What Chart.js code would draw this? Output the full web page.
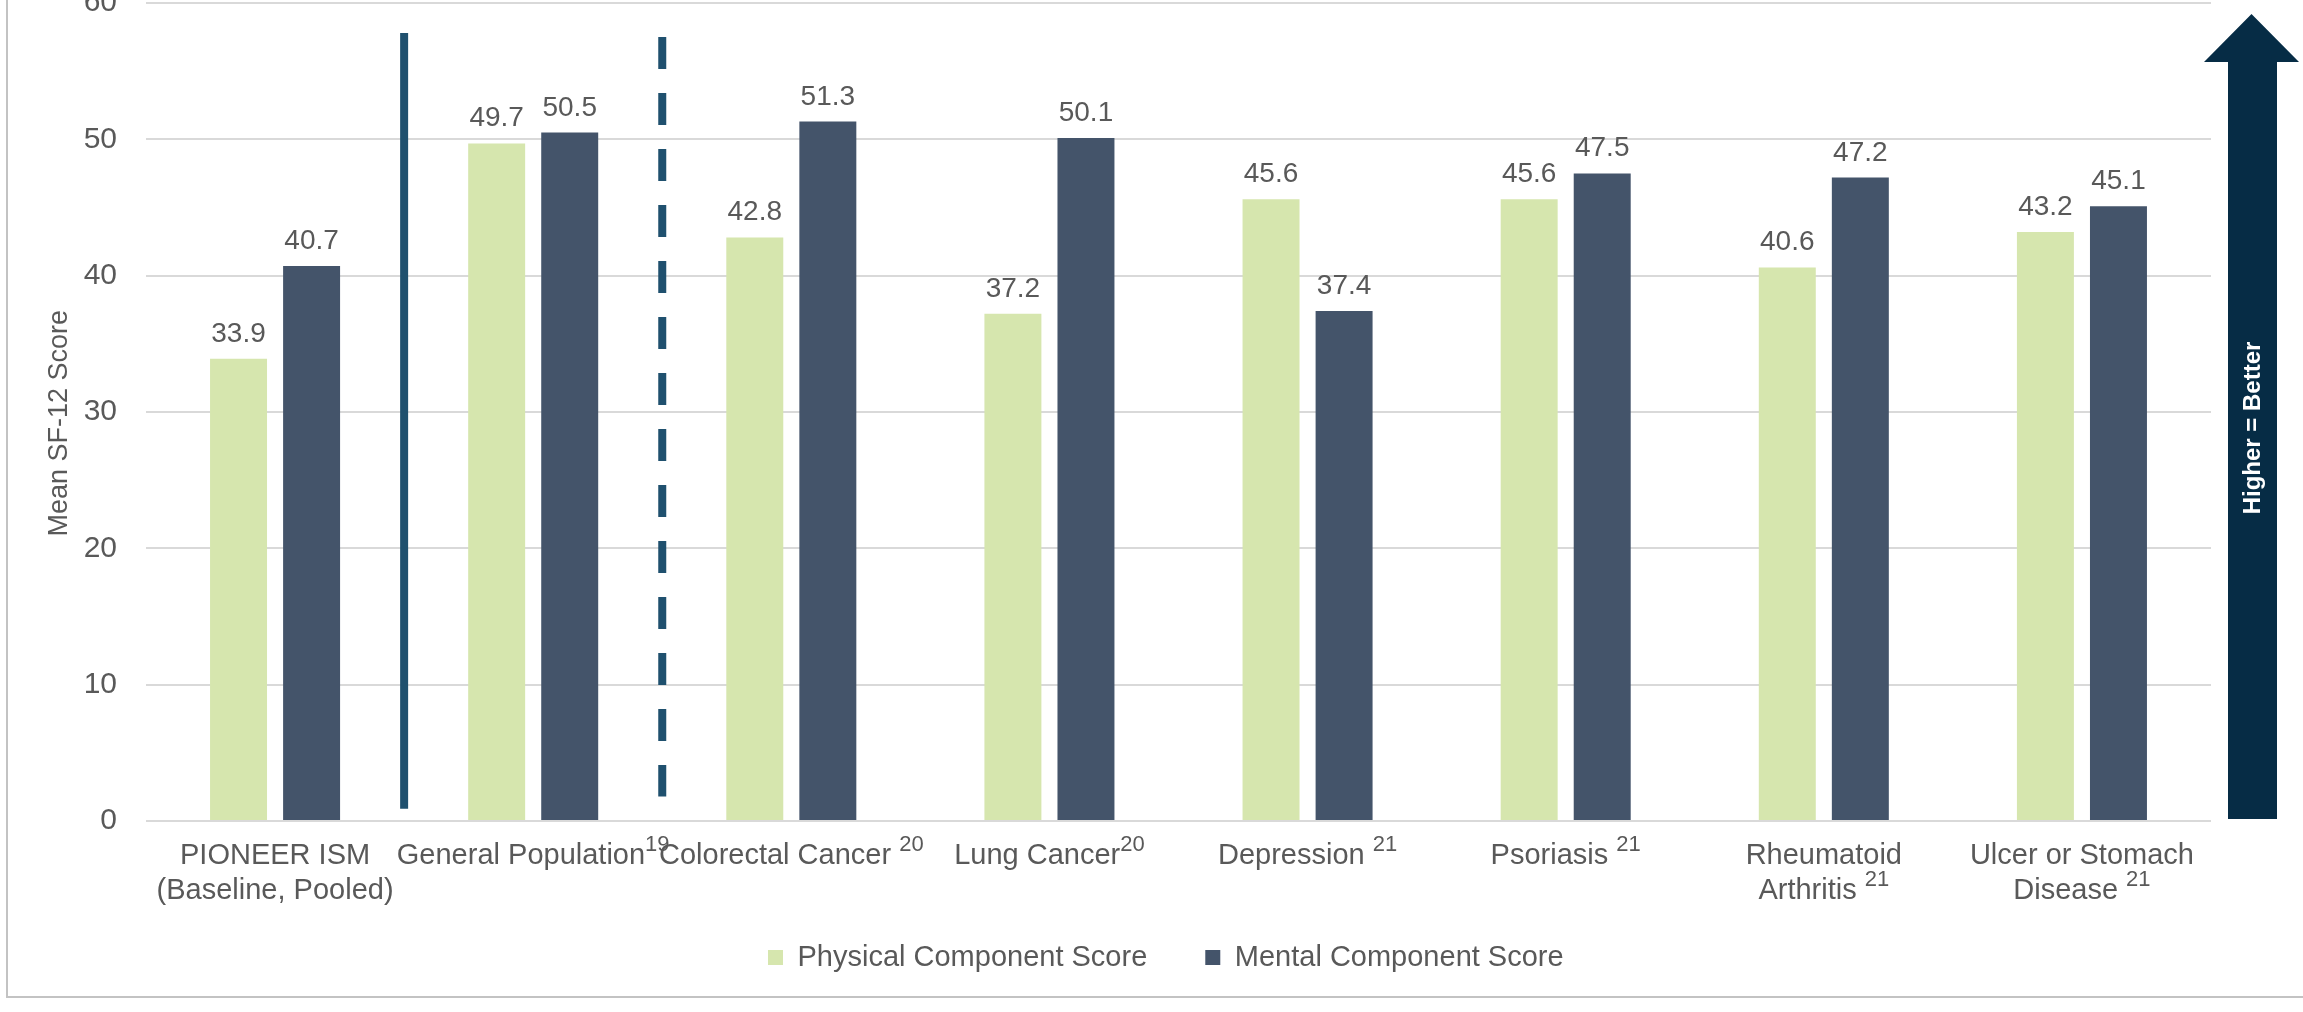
<!DOCTYPE html>
<html>
<head>
<meta charset="utf-8">
<script src="https://cdn.jsdelivr.net/npm/chart.js@4.4.1/dist/chart.umd.min.js"></script>
<style>
  html, body { margin: 0; padding: 0; background: #fff; overflow: hidden; }
  #wrap { position: relative; width: 2303px; height: 1012px; }
  #frame { position: absolute; left: 6px; top: -10px; width: 2400px; height: 1004px; border: 2px solid #c3c3c3; }
  #sf12Chart { position: absolute; left: 0; top: 0; }
</style>
</head>
<body>
<div id="wrap">
  <div id="frame"></div>
  <canvas id="sf12Chart" width="2303" height="1012"></canvas>
</div>
<script>
// SF-12 component scores by group
const groupNames = [
    ['PIONEER ISM', '(Baseline, Pooled)'],
    ['General Population'],
    ['Colorectal Cancer '],
    ['Lung Cancer'],
    ['Depression '],
    ['Psoriasis '],
    ['Rheumatoid', 'Arthritis '],
    ['Ulcer or Stomach', 'Disease '],
];
// reference numbers shown as superscripts after each group name
const groupRefs = ['', '19', '20', '20', '21', '21', '21', '21'];
const physicalScores = [33.9, 49.7, 42.8, 37.2, 45.6, 45.6, 40.6, 43.2];
const mentalScores = [40.7, 50.5, 51.3, 50.1, 37.4, 47.5, 47.2, 45.1];
const seriesNames = ['Physical Component Score', 'Mental Component Score'];
const yTicks = [0, 10, 20, 30, 40, 50, 60];

// separators between groups: [category position, from value, to value]
const solidDivider = [0.5, 0.9, 57.8];
const dashedDivider = [1.5, 1.8, 57.5];

const FONT = "'Liberation Sans', Arial, sans-serif";
const TEXT = '#595959';

Chart.defaults.font.family = FONT;
Chart.defaults.color = TEXT;

// value labels above each bar
const barValues = {
    id: 'barValues',
    afterDatasetsDraw(chart) {
        const ctx = chart.ctx;
        ctx.save();
        ctx.font = '28px ' + FONT;
        ctx.fillStyle = TEXT;
        ctx.textAlign = 'center';
        ctx.textBaseline = 'alphabetic';
        chart.data.datasets.forEach((ds, i) => {
            chart.getDatasetMeta(i).data.forEach((bar, j) => {
                ctx.fillText(ds.data[j].toFixed(1), bar.x, bar.y - 17);
            });
        });
        ctx.restore();
    }
};

// category names with superscript references, drawn under the x axis
const groupTicks = {
    id: 'groupTicks',
    afterDraw(chart) {
        const ctx = chart.ctx;
        const x = chart.scales.x;
        const mainFont = '29px ' + FONT;
        const supFont = '22px ' + FONT;
        ctx.save();
        ctx.fillStyle = TEXT;
        ctx.textBaseline = 'alphabetic';
        ctx.textAlign = 'left';
        groupNames.forEach((lines, i) => {
            const cx = x.getPixelForValue(i);
            lines.forEach((line, k) => {
                const base = x.top + 43 + k * 35;
                const sup = k === lines.length - 1 ? groupRefs[i] : '';
                ctx.font = mainFont;
                const mainW = ctx.measureText(line).width;
                ctx.font = supFont;
                const supW = sup ? ctx.measureText(sup).width : 0;
                const start = cx - (mainW + supW) / 2;
                ctx.font = mainFont;
                ctx.fillText(line, start, base);
                if (sup) {
                    ctx.font = supFont;
                    ctx.fillText(sup, start + mainW, base - 13);
                }
            });
        });
        ctx.restore();
    }
};

// vertical dividers and the "Higher = Better" arrow
const decorations = {
    id: 'decorations',
    afterDraw(chart) {
        const ctx = chart.ctx;
        const x = chart.scales.x;
        const y = chart.scales.y;
        const area = chart.chartArea;

        ctx.save();
        ctx.strokeStyle = '#1f506e';
        ctx.lineWidth = 8;
        ctx.lineCap = 'butt';

        let px = x.getPixelForValue(solidDivider[0]);
        ctx.beginPath();
        ctx.moveTo(px, y.getPixelForValue(solidDivider[2]));
        ctx.lineTo(px, y.getPixelForValue(solidDivider[1]));
        ctx.stroke();

        px = x.getPixelForValue(dashedDivider[0]);
        ctx.setLineDash([32, 24]);
        ctx.beginPath();
        ctx.moveTo(px, y.getPixelForValue(dashedDivider[2]));
        ctx.lineTo(px, y.getPixelForValue(dashedDivider[1]));
        ctx.stroke();
        ctx.setLineDash([]);

        // arrow
        const r = area.right;
        const bodyL = r + 17, bodyR = r + 66;
        const headL = r - 7, headR = r + 88;
        const tipX = (headL + headR) / 2;
        const tipY = 14, headY = 62, bottom = 819;
        ctx.fillStyle = '#062c45';
        ctx.beginPath();
        ctx.moveTo(tipX, tipY);
        ctx.lineTo(headR, headY);
        ctx.lineTo(bodyR, headY);
        ctx.lineTo(bodyR, bottom);
        ctx.lineTo(bodyL, bottom);
        ctx.lineTo(bodyL, headY);
        ctx.lineTo(headL, headY);
        ctx.closePath();
        ctx.fill();

        ctx.translate((bodyL + bodyR) / 2 + 1, 428);
        ctx.rotate(-Math.PI / 2);
        ctx.fillStyle = '#ffffff';
        ctx.font = 'bold 24px ' + FONT;
        ctx.textAlign = 'center';
        ctx.textBaseline = 'middle';
        ctx.fillText('Higher = Better', 0, 0);
        ctx.restore();
    }
};

// legend sits a little right of the canvas centre
const legendStartX = 768;
const legendShift = {
    id: 'legendShift',
    afterLayout(chart) {
        const lg = chart.legend;
        const pad = lg.options.labels.padding;
        const start = (lg.left + pad + lg.right - lg.lineWidths[0]) / 2;
        const shift = legendStartX - start;
        lg.left += shift;
        lg.right += shift;
    }
};

const ctx = document.getElementById('sf12Chart').getContext('2d');
new Chart(ctx, {
    type: 'bar',
    data: {
        labels: groupNames.map((lines, i) => lines.join(' ') + groupRefs[i]),
        datasets: [
            {
                label: seriesNames[0],
                data: physicalScores,
                backgroundColor: '#d6e6ae',
                borderWidth: 0,
            },
            {
                label: seriesNames[1],
                data: mentalScores,
                backgroundColor: '#44546a',
                borderWidth: 0,
            },
        ],
    },
    options: {
        responsive: false,
        animation: false,
        devicePixelRatio: 1,
        categoryPercentage: 0.566,
        barPercentage: 0.78,
        layout: {
            padding: { top: 3, right: 92, bottom: 30, left: 0 },
        },
        plugins: {
            legend: {
                position: 'bottom',
                labels: {
                    boxWidth: 15,
                    boxHeight: 15,
                    padding: 58,
                    color: TEXT,
                    font: { size: 29 },
                },
            },
            tooltip: { enabled: false },
        },
        scales: {
            x: {
                grid: { display: false },
                border: { display: false },
                ticks: { display: false },
                afterFit(scale) {
                    scale.height = 64;
                },
            },
            y: {
                min: 0,
                max: 60,
                afterBuildTicks(scale) {
                    scale.ticks = yTicks.map((v) => ({ value: v }));
                },
                grid: {
                    color: '#d9d9d9',
                    lineWidth: 2,
                    drawTicks: false,
                },
                border: { display: false },
                ticks: {
                    padding: 29,
                    color: TEXT,
                    font: { size: 30 },
                },
                title: {
                    display: true,
                    // trailing spaces nudge the centred title a little lower
                    text: 'Mean SF-12 Score   ',
                    color: TEXT,
                    font: { size: 27, lineHeight: 1.2 },
                    padding: { top: 43, bottom: 0 },
                },
                afterFit(scale) {
                    scale.width = 146;
                    scale.paddingTop = 0;
                    scale.paddingBottom = 0;
                },
            },
        },
    },
    plugins: [barValues, groupTicks, decorations, legendShift],
});
</script>
</body>
</html>
